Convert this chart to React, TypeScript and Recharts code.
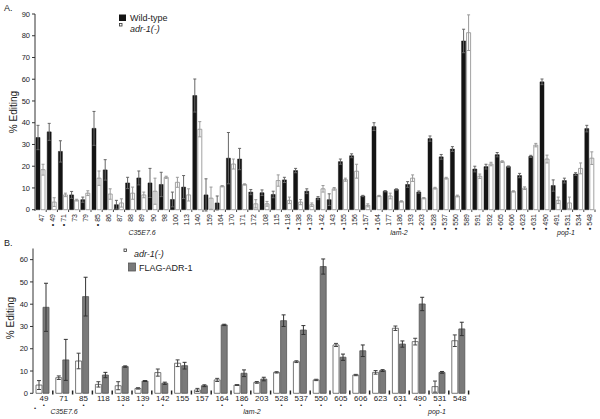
import React from 'react';
import { BarChart, Bar, XAxis, YAxis, ErrorBar } from 'recharts';

// ---------- Panel A data ----------
const sitesA = ['47','49','71','73','79','85','86','87','88','89','90','98','100','113','140','159','164','170','171','172','108','115','118','138','139','142','143','155','156','157','164','177','186','193','203','528','537','550','589','591','592','605','606','623','631','490','491','531','534','548'];
const bulletA = [0,1,1,0,0,1,0,0,0,0,0,0,0,0,0,0,0,0,0,0,0,0,1,1,1,1,0,1,0,1,1,0,1,0,1,1,1,1,0,0,0,1,1,1,1,1,0,1,0,1];
const wildType = [33.2,35.8,26.8,6.8,4.6,37.4,18.3,2.3,12.3,14.6,12.3,11.6,4.7,10.4,52.5,6.8,3.1,23.7,23.3,8.1,7.8,7.0,13.7,18.0,8.5,5.3,4.6,22.1,24.8,6.3,38.2,8.5,9.3,11.6,8.1,32.7,24.3,27.9,77.6,18.7,19.8,25.3,19.8,15.7,24.5,58.8,11.1,13.4,16.4,37.3];
const wildTypeErr = [5.6,3.9,4.9,1.6,1.2,7.8,4.7,2.0,2.6,3.2,6.7,5.6,3.4,5.3,7.6,7.4,3.2,11.8,4.9,1.2,1.3,1.5,1.2,1.0,1.1,0.7,2.7,1.2,0.9,0.3,1.8,0.3,0.3,1.3,0.5,1.2,1.1,1.1,5.4,1.3,1.1,1.0,0.3,1.0,0.5,1.3,2.6,1.1,0.6,1.5];
const adr1A = [18.4,3.5,6.8,4.4,7.6,14.5,7.2,3.1,7.6,6.8,8.5,14.9,12.6,6.8,37.0,5.3,10.8,21.0,11.6,2.7,2.7,13.4,4.3,3.5,2.3,9.6,9.6,13.8,17.7,2.0,6.3,6.3,3.8,14.5,5.3,9.9,14.5,6.3,81.4,15.4,21.0,22.1,8.4,9.9,29.7,23.3,4.3,3.1,19.0,23.7];
const adr1AErr = [2.5,2.0,0.8,0.4,1.1,3.3,2.4,1.9,2.8,1.3,6.0,0.5,2.3,2.8,3.5,5.1,0.3,2.3,0.3,1.9,1.1,2.6,1.5,1.2,0.8,1.5,0.6,0.7,3.2,0.7,0.3,1.3,0.3,1.5,0.3,0.4,0.4,0.4,8.2,1.0,0.8,0.4,0.3,0.6,0.8,1.8,1.5,2.7,2.5,2.9];
const yTicksA = [0,10,20,30,40,50,60,70,80,90];

// ---------- Panel B data ----------
const sitesB = ['49','71','85','118','138','139','142','155','157','164','186','203','528','537','550','605','606','623','631','490','531','548'];
const bulletB = [1,0,1,0,1,1,1,0,0,1,1,0,1,1,1,1,1,0,1,1,1,0];
const adr1B = [3.7,7.0,14.5,4.0,3.4,2.2,9.3,13.5,1.5,6.0,3.7,4.9,9.4,14.2,6.0,21.7,8.2,9.4,29.2,23.2,3.0,23.6];
const adr1BErr = [2.0,0.8,3.5,1.2,1.8,0.3,1.6,1.5,0.7,0.7,0.2,0.4,0.3,0.4,0.3,0.7,0.3,0.8,1.0,1.5,2.5,2.6];
const flagB = [38.6,15.0,43.4,8.2,12.0,5.5,4.5,12.4,3.4,30.7,9.0,6.4,32.6,28.4,56.9,16.2,19.1,10.2,22.1,40.1,9.4,28.9];
const flagBErr = [10.8,9.2,8.7,1.2,0.3,0.2,0.5,1.5,0.4,0.3,1.5,0.8,2.6,2.0,3.4,1.4,2.6,0.4,1.4,3.0,0.4,3.0];
const yTicksB = [0,10,20,30,40,50,60];

const dataA = sitesA.map((s, i) => ({ i, wt: wildType[i], wtErr: wildTypeErr[i], adr: adr1A[i], adrErr: adr1AErr[i] }));
const dataB = sitesB.map((s, i) => ({ i, adr: adr1B[i], adrErr: adr1BErr[i], flag: flagB[i], flagErr: flagBErr[i] }));

const FONT = '"Liberation Sans", Arial, Helvetica, sans-serif';
const STEP_A = 560 / sitesA.length;
const STEP_B = (600 - 33 - 131.4) / sitesB.length;

const TickA = (props: any) => {
  const { x, payload } = props;
  const i = payload.value;
  const label = (bulletA[i] ? '\u2022  ' : '') + sitesA[i];
  return (
    <g>
      <line x1={x + STEP_A / 2} x2={x + STEP_A / 2} y1={209.5} y2={212} stroke="#444" strokeWidth={1} />
      <text transform={`translate(${x + 0.5},214) rotate(-90)`} textAnchor="end" dominantBaseline="central" fontSize={7} fill="#222" fontFamily={FONT}>{label}</text>
    </g>
  );
};

const TickB = (props: any) => {
  const { x, payload } = props;
  const i = payload.value;
  return (
    <g>
      <line x1={x + STEP_B / 2} x2={x + STEP_B / 2} y1={390.5} y2={394.5} stroke="#222" strokeWidth={1.5} />
      <text x={x + 1} y={401} textAnchor="middle" fontSize={8} fill="#222" fontFamily={FONT}>{sitesB[i]}</text>
      {bulletB[i] ? <text x={x + 1} y={407} textAnchor="middle" fontSize={6} fill="#222" fontFamily={FONT}>{'\u2022'}</text> : null}
    </g>
  );
};

export default function App() {
  return (
    <div style={{ position: 'absolute', left: 0, top: 0, width: 600, height: 419, background: '#fff', fontFamily: FONT }}>
      <div style={{ position: 'absolute', left: 0, top: 0 }}>
        <BarChart width={600} height={245} data={dataA} margin={{ top: 14, right: 5, left: 0, bottom: 5 }} barSize={4} barGap={1}>
          <XAxis dataKey="i" type="category" interval={0} axisLine={false} tickLine={false} height={29} tick={<TickA />} />
          <YAxis domain={[0, 90]} ticks={yTicksA} width={35} axisLine={{ stroke: '#333' }} tickLine={{ stroke: '#333' }} tickSize={3} tickMargin={2} tick={{ fontSize: 7.5, fill: '#222', fontFamily: FONT }} interval={0} />
          <Bar dataKey="wt" fill="#141414" stroke="#141414" strokeWidth={0.5} isAnimationActive={false}>
            <ErrorBar dataKey="wtErr" width={1.5} stroke="#666" strokeWidth={1} />
          </Bar>
          <Bar dataKey="adr" fill="#ffffff" stroke="#8a8a8a" strokeWidth={0.8} isAnimationActive={false}>
            <ErrorBar dataKey="adrErr" width={1.5} stroke="#9a9a9a" strokeWidth={1} />
          </Bar>
        </BarChart>
      </div>
      <div style={{ position: 'absolute', left: 0, top: 0 }}>
        <BarChart width={600} height={419} data={dataB} margin={{ top: 248.5, right: 131.4, left: 0, bottom: 0 }} barSize={6} barGap={1}>
          <XAxis dataKey="i" type="category" interval={0} axisLine={false} tickLine={false} height={25.7} tick={<TickB />} />
          <YAxis domain={[0, 65]} ticks={yTicksB} width={33} axisLine={{ stroke: '#333' }} tickLine={{ stroke: '#333' }} tickSize={3} tickMargin={2} tick={{ fontSize: 7.5, fill: '#222', fontFamily: FONT }} interval={0} />
          <Bar dataKey="adr" fill="#ffffff" stroke="#555" strokeWidth={0.8} isAnimationActive={false}>
            <ErrorBar dataKey="adrErr" width={2} stroke="#444" strokeWidth={1} />
          </Bar>
          <Bar dataKey="flag" fill="#7a7a7a" stroke="#555" strokeWidth={0.8} isAnimationActive={false}>
            <ErrorBar dataKey="flagErr" width={2} stroke="#333" strokeWidth={1} />
          </Bar>
        </BarChart>
      </div>
      <svg width={600} height={419} style={{ position: 'absolute', left: 0, top: 0, pointerEvents: 'none' }} fontFamily={FONT}>
        {/* Panel A annotations */}
        <text x={4} y={11} fontSize={9} fill="#222">A.</text>
        <text transform="translate(17,112) rotate(-90)" textAnchor="middle" fontSize={10} fill="#222">% Editing</text>
        <rect x={119} y={14.5} width={7} height={6.5} fill="#141414" />
        <text x={130} y={21} fontSize={9} fill="#222">Wild-type</text>
        <rect x={119.5} y={23.5} width={2.5} height={2.5} fill="#fff" stroke="#333" strokeWidth={0.8} />
        <text x={130} y={32} fontSize={9} fontStyle="italic" fill="#222">adr-1(-)</text>
        <text x={142} y={235} textAnchor="middle" fontSize={7} fontStyle="italic" fill="#222">C35E7.6</text>
        <text x={399} y={235} textAnchor="middle" fontSize={7} fontStyle="italic" fill="#222">lam-2</text>
        <text x={566} y={235} textAnchor="middle" fontSize={7} fontStyle="italic" fill="#222">pop-1</text>
        {/* Panel B annotations */}
        <text x={4} y={246} fontSize={9} fill="#222">B.</text>
        <text transform="translate(14,318) rotate(-90)" textAnchor="middle" fontSize={10} fill="#222">% Editing</text>
        <rect x={124} y={249} width={2.5} height={2.5} fill="#fff" stroke="#333" strokeWidth={0.8} />
        <text x={134} y={257} fontSize={9} fontStyle="italic" fill="#222">adr-1(-)</text>
        <rect x={128.5} y={263} width={7} height={8} fill="#7a7a7a" stroke="#555" strokeWidth={0.8} />
        <text x={139} y={271} fontSize={9} fill="#222">FLAG-ADR-1</text>
        <text x={35} y={410} textAnchor="middle" fontSize={6} fill="#222">{'\u2022'}</text>
        <text x={64} y={414} textAnchor="middle" fontSize={7} fontStyle="italic" fill="#222">C35E7.6</text>
        <text x={252} y={414} textAnchor="middle" fontSize={7} fontStyle="italic" fill="#222">lam-2</text>
        <text x={437} y={414} textAnchor="middle" fontSize={7} fontStyle="italic" fill="#222">pop-1</text>
      </svg>
    </div>
  );
}
